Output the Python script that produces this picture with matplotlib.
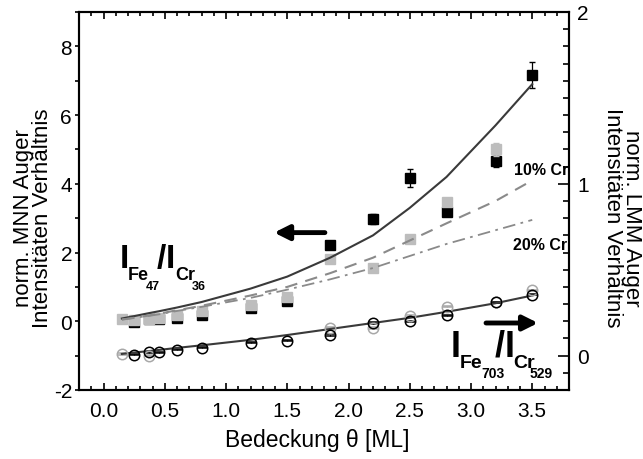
import numpy as np
import matplotlib
matplotlib.use("Agg")
import matplotlib.pyplot as plt
from matplotlib.ticker import MultipleLocator

plt.rcParams['font.family'] = ['Liberation Sans', 'DejaVu Sans']
plt.rcParams['axes.unicode_minus'] = False

# Bedeckung (ML)
theta_fit = [0.15, 0.25, 0.375, 0.45, 0.6, 0.8, 1.2, 1.5, 1.85, 2.2, 2.5, 2.8, 3.2, 3.5]
theta_sq = [0.25, 0.375, 0.45, 0.6, 0.8, 1.2, 1.5, 1.85, 2.2, 2.5, 2.8, 3.2, 3.5]
theta_sq_grau = [0.15, 0.25, 0.375, 0.45, 0.6, 0.8, 1.2, 1.5, 1.85, 2.2, 2.5, 2.8, 3.2]
theta_kr = [0.25, 0.375, 0.45, 0.6, 0.8, 1.2, 1.5, 1.85, 2.2, 2.5, 2.8, 3.2, 3.5]
theta_kr_grau = [0.15, 0.375, 1.85, 2.2, 2.5, 2.8, 3.2, 3.5]

# MNN Verhaeltnis (linke Achse)
mnn_schwarz = [-0.03, 0.06, 0.06, 0.09, 0.17, 0.38, 0.6, 2.23, 2.98, 4.17, 3.17, 4.65, 7.17]
mnn_schwarz_err = [0, 0, 0, 0, 0, 0, 0, 0.06, 0.15, 0.25, 0.1, 0.16, 0.38]
mnn_grau = [0.07, 0.03, 0.08, 0.1, 0.17, 0.29, 0.46, 0.7, 1.8, 1.56, 2.4, 3.48, 5.0]
mnn_grau_err = [0, 0, 0, 0, 0, 0, 0, 0, 0.05, 0.05, 0.05, 0.1, 0.2]
mnn_fit = [0.08, 0.15, 0.24, 0.29, 0.4, 0.56, 0.95, 1.3, 1.85, 2.5, 3.3, 4.2, 5.7, 6.9]
mnn_fit_10 = [0.05, 0.1, 0.17, 0.22, 0.32, 0.45, 0.75, 1.0, 1.4, 1.85, 2.35, 2.85, 3.5, 4.1]
mnn_fit_20 = [0.05, 0.1, 0.16, 0.2, 0.3, 0.42, 0.68, 0.92, 1.22, 1.55, 1.9, 2.25, 2.65, 2.95]

# LMM Verhaeltnis (rechte Achse)
lmm_schwarz = [0.005, 0.02, 0.02, 0.035, 0.047, 0.076, 0.087, 0.12, 0.19, 0.2, 0.235, 0.31, 0.355]
lmm_grau = [0.01, 0.0, 0.163, 0.16, 0.23, 0.285, 0.31, 0.38]
lmm_fit = [0.01, 0.018, 0.027, 0.033, 0.045, 0.06, 0.092, 0.12, 0.155, 0.19, 0.22, 0.255, 0.305, 0.35]

W, H = 643, 460
fig = plt.figure(figsize=(W / 100, H / 100), dpi=100)
ax = fig.add_axes([79 / W, 1 - 391 / H, 490 / W, 378 / H])
ax2 = ax.twinx()

grau = '#bdbdbd'
# linke Achse
ax.errorbar(theta_sq, mnn_schwarz, yerr=mnn_schwarz_err, fmt='s', color='black',
            ms=6.5, capsize=2.5, elinewidth=0.9, zorder=3)
ax.errorbar(theta_sq_grau, mnn_grau, yerr=mnn_grau_err, fmt='s', color=grau,
            ms=6.5, capsize=2.5, elinewidth=0.9, zorder=4)
ax.plot(theta_fit, mnn_fit, '-', color='#3a3a3a', lw=1.5, zorder=5)
ax.plot(theta_fit, mnn_fit_10, color='#8a8a8a', lw=1.5, dashes=(6, 4), zorder=5)
ax.plot(theta_fit, mnn_fit_20, color='#8a8a8a', lw=1.3, dashes=(7, 3, 1.5, 3), zorder=5)

# rechte Achse
ax2.errorbar(theta_kr_grau, lmm_grau, yerr=0.004, fmt='o', mfc='none', mec='#a8a8a8',
             ecolor='#a8a8a8', ms=7.5, mew=1.1, capsize=3.5, elinewidth=0.8)
ax2.errorbar(theta_kr, lmm_schwarz, yerr=0.004, fmt='o', mfc='none', mec='black',
             ecolor='black', ms=7.5, mew=1.1, capsize=3.5, elinewidth=0.8)
ax2.plot(theta_fit, lmm_fit, '-', color='#3a3a3a', lw=1.5)

ax.set_xlim(-0.2, 3.8)
ax.set_ylim(-2, 9)
ax2.set_ylim(-0.2, 2)

ax.xaxis.set_major_locator(MultipleLocator(0.5))
ax.xaxis.set_minor_locator(MultipleLocator(0.1))
ax.yaxis.set_major_locator(MultipleLocator(2))
ax.yaxis.set_minor_locator(MultipleLocator(1))
ax2.yaxis.set_major_locator(MultipleLocator(1))
ax2.yaxis.set_minor_locator(MultipleLocator(0.1))
ax.xaxis.set_major_formatter(plt.FormatStrFormatter('%.1f'))

for a in (ax, ax2):
    for s in a.spines.values():
        s.set_linewidth(1.5)

ax.tick_params(axis='x', which='both', direction='in', top=True, labelsize=15, pad=8, width=1.2)
ax.tick_params(axis='x', which='major', length=5)
ax.tick_params(axis='x', which='minor', length=3)
ax.tick_params(axis='y', which='both', direction='out', labelsize=15, pad=2, width=1.2)
ax.tick_params(axis='y', which='major', length=3)
ax.tick_params(axis='y', which='minor', length=3)
ax2.tick_params(axis='y', which='both', direction='in', labelsize=15, pad=6, width=1.2)
ax2.tick_params(axis='y', which='major', length=8)
ax2.tick_params(axis='y', which='minor', length=4)

# Achsenbeschriftungen
fig.text(317 / W, 1 - 441 / H, 'Bedeckung θ [ML]', fontsize=16.5, ha='center', va='center')
fig.text(33 / W, 1 - 218 / H, 'norm. MNN Auger\nIntensitäten Verhältnis', fontsize=16,
         rotation=90, ha='center', va='center', multialignment='center', linespacing=0.9)
fig.text(622 / W, 1 - 218 / H, 'norm. LMM Auger\nIntensitäten Verhältnis', fontsize=16,
         rotation=-90, ha='center', va='center', multialignment='center', linespacing=0.9)

# Pfeile
ax.annotate('', xy=(1.37, 2.58), xytext=(1.83, 2.58),
            arrowprops=dict(arrowstyle='-|>', color='black', lw=3.5, mutation_scale=22))
ax2.annotate('', xy=(3.57, 0.19), xytext=(3.1, 0.19),
             arrowprops=dict(arrowstyle='-|>', color='black', lw=3.5, mutation_scale=22))


def stueck(px, py, s, size):
    fig.text(px / W, 1 - py / H, s, fontsize=size, fontweight='bold',
             ha='left', va='baseline')


# I_Fe47 / I_Cr36
stueck(120, 268, 'I', 24)
stueck(128, 280, 'Fe', 13)
stueck(146, 290, '47', 9)
stueck(157, 268, '/', 24)
stueck(166, 268, 'I', 24)
stueck(175, 280, 'Cr', 13)
stueck(192, 290, '36', 9)

# I_Fe703 / I_Cr529
stueck(451, 357, 'I', 26)
stueck(460, 368, 'Fe', 14)
stueck(481, 378, '703', 10)
stueck(495, 357, '/', 26)
stueck(505, 357, 'I', 26)
stueck(513, 368, 'Cr', 14)
stueck(530, 378, '529', 10)

stueck(514, 175, '10% Cr', 11.5)
stueck(513, 250, '20% Cr', 11.5)

fig.savefig('out.png', dpi=100)
